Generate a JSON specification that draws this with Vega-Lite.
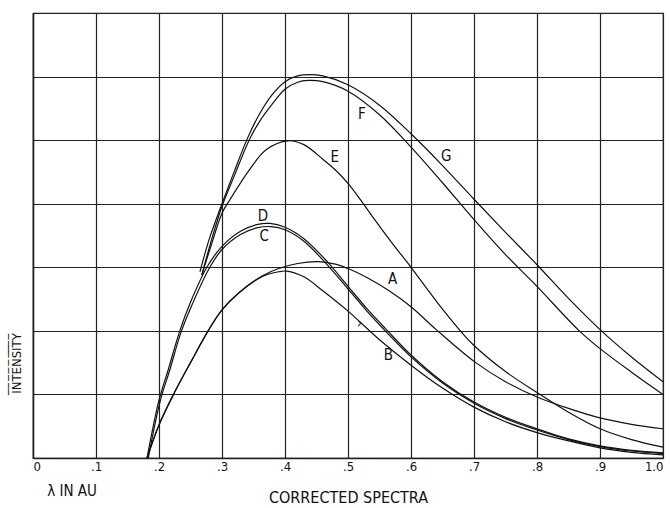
{
  "$schema": "https://vega.github.io/schema/vega-lite/v6.json",
  "width": 630,
  "height": 445,
  "autosize": {"type": "none"},
  "padding": {"left": 33, "top": 13, "right": 7, "bottom": 50},
  "background": "white",
  "config": {
    "view": {"stroke": "#222", "strokeWidth": 1.2},
    "font": "DejaVu Sans Condensed"
  },
  "datasets": {
    "curves": [
      {"series": "G", "x": 0.265, "y": 2.93}, {"series": "G", "x": 0.28, "y": 3.45}, {"series": "G", "x": 0.30, "y": 4.0}, {"series": "G", "x": 0.32, "y": 4.52}, {"series": "G", "x": 0.34, "y": 5.02}, {"series": "G", "x": 0.36, "y": 5.42}, {"series": "G", "x": 0.38, "y": 5.72}, {"series": "G", "x": 0.40, "y": 5.92}, {"series": "G", "x": 0.42, "y": 6.01}, {"series": "G", "x": 0.44, "y": 6.03}, {"series": "G", "x": 0.46, "y": 6.01}, {"series": "G", "x": 0.50, "y": 5.87}, {"series": "G", "x": 0.55, "y": 5.55}, {"series": "G", "x": 0.60, "y": 5.1}, {"series": "G", "x": 0.65, "y": 4.6}, {"series": "G", "x": 0.70, "y": 4.07}, {"series": "G", "x": 0.75, "y": 3.55}, {"series": "G", "x": 0.80, "y": 3.04}, {"series": "G", "x": 0.85, "y": 2.51}, {"series": "G", "x": 0.90, "y": 2.02}, {"series": "G", "x": 0.95, "y": 1.59}, {"series": "G", "x": 1.0, "y": 1.2},

      {"series": "F", "x": 0.268, "y": 2.88}, {"series": "F", "x": 0.283, "y": 3.42}, {"series": "F", "x": 0.30, "y": 3.96}, {"series": "F", "x": 0.32, "y": 4.45}, {"series": "F", "x": 0.343, "y": 5.0}, {"series": "F", "x": 0.36, "y": 5.3}, {"series": "F", "x": 0.38, "y": 5.57}, {"series": "F", "x": 0.40, "y": 5.8}, {"series": "F", "x": 0.42, "y": 5.91}, {"series": "F", "x": 0.437, "y": 5.94}, {"series": "F", "x": 0.46, "y": 5.92}, {"series": "F", "x": 0.50, "y": 5.77}, {"series": "F", "x": 0.55, "y": 5.4}, {"series": "F", "x": 0.60, "y": 4.89}, {"series": "F", "x": 0.65, "y": 4.33}, {"series": "F", "x": 0.70, "y": 3.75}, {"series": "F", "x": 0.75, "y": 3.2}, {"series": "F", "x": 0.80, "y": 2.7}, {"series": "F", "x": 0.865, "y": 2.02}, {"series": "F", "x": 0.90, "y": 1.72}, {"series": "F", "x": 0.95, "y": 1.35}, {"series": "F", "x": 1.0, "y": 1.0},

      {"series": "E", "x": 0.268, "y": 2.88}, {"series": "E", "x": 0.283, "y": 3.35}, {"series": "E", "x": 0.30, "y": 3.85}, {"series": "E", "x": 0.313, "y": 4.07}, {"series": "E", "x": 0.344, "y": 4.54}, {"series": "E", "x": 0.37, "y": 4.85}, {"series": "E", "x": 0.405, "y": 4.99}, {"series": "E", "x": 0.43, "y": 4.93}, {"series": "E", "x": 0.46, "y": 4.70}, {"series": "E", "x": 0.48, "y": 4.53}, {"series": "E", "x": 0.50, "y": 4.32}, {"series": "E", "x": 0.52, "y": 4.06}, {"series": "E", "x": 0.54, "y": 3.78}, {"series": "E", "x": 0.57, "y": 3.38}, {"series": "E", "x": 0.60, "y": 3.0}, {"series": "E", "x": 0.63, "y": 2.6}, {"series": "E", "x": 0.65, "y": 2.34}, {"series": "E", "x": 0.68, "y": 1.98}, {"series": "E", "x": 0.70, "y": 1.77}, {"series": "E", "x": 0.75, "y": 1.36}, {"series": "E", "x": 0.80, "y": 1.03}, {"series": "E", "x": 0.85, "y": 0.72}, {"series": "E", "x": 0.90, "y": 0.46}, {"series": "E", "x": 0.95, "y": 0.29}, {"series": "E", "x": 1.0, "y": 0.17},

      {"series": "D", "x": 0.181, "y": 0.0}, {"series": "D", "x": 0.20, "y": 0.91}, {"series": "D", "x": 0.215, "y": 1.4}, {"series": "D", "x": 0.233, "y": 2.0}, {"series": "D", "x": 0.25, "y": 2.45}, {"series": "D", "x": 0.276, "y": 3.0}, {"series": "D", "x": 0.30, "y": 3.33}, {"series": "D", "x": 0.33, "y": 3.57}, {"series": "D", "x": 0.355, "y": 3.67}, {"series": "D", "x": 0.376, "y": 3.69}, {"series": "D", "x": 0.40, "y": 3.63}, {"series": "D", "x": 0.43, "y": 3.45}, {"series": "D", "x": 0.466, "y": 3.1}, {"series": "D", "x": 0.50, "y": 2.7}, {"series": "D", "x": 0.53, "y": 2.35}, {"series": "D", "x": 0.561, "y": 2.02}, {"series": "D", "x": 0.60, "y": 1.62}, {"series": "D", "x": 0.65, "y": 1.2}, {"series": "D", "x": 0.70, "y": 0.88}, {"series": "D", "x": 0.75, "y": 0.64}, {"series": "D", "x": 0.80, "y": 0.46}, {"series": "D", "x": 0.85, "y": 0.3}, {"series": "D", "x": 0.90, "y": 0.19}, {"series": "D", "x": 0.95, "y": 0.12}, {"series": "D", "x": 1.0, "y": 0.08},

      {"series": "C", "x": 0.183, "y": 0.0}, {"series": "C", "x": 0.202, "y": 0.9}, {"series": "C", "x": 0.217, "y": 1.38}, {"series": "C", "x": 0.235, "y": 1.98}, {"series": "C", "x": 0.252, "y": 2.4}, {"series": "C", "x": 0.279, "y": 2.97}, {"series": "C", "x": 0.30, "y": 3.28}, {"series": "C", "x": 0.33, "y": 3.52}, {"series": "C", "x": 0.355, "y": 3.62}, {"series": "C", "x": 0.378, "y": 3.64}, {"series": "C", "x": 0.40, "y": 3.59}, {"series": "C", "x": 0.43, "y": 3.41}, {"series": "C", "x": 0.466, "y": 3.05}, {"series": "C", "x": 0.50, "y": 2.66}, {"series": "C", "x": 0.53, "y": 2.31}, {"series": "C", "x": 0.561, "y": 1.98}, {"series": "C", "x": 0.60, "y": 1.59}, {"series": "C", "x": 0.65, "y": 1.18}, {"series": "C", "x": 0.70, "y": 0.86}, {"series": "C", "x": 0.75, "y": 0.62}, {"series": "C", "x": 0.80, "y": 0.44}, {"series": "C", "x": 0.85, "y": 0.29}, {"series": "C", "x": 0.90, "y": 0.18}, {"series": "C", "x": 0.95, "y": 0.11}, {"series": "C", "x": 1.0, "y": 0.07},

      {"series": "B", "x": 0.181, "y": 0.0}, {"series": "B", "x": 0.20, "y": 0.52}, {"series": "B", "x": 0.223, "y": 1.0}, {"series": "B", "x": 0.25, "y": 1.5}, {"series": "B", "x": 0.278, "y": 2.0}, {"series": "B", "x": 0.30, "y": 2.33}, {"series": "B", "x": 0.327, "y": 2.6}, {"series": "B", "x": 0.365, "y": 2.86}, {"series": "B", "x": 0.39, "y": 2.93}, {"series": "B", "x": 0.403, "y": 2.94}, {"series": "B", "x": 0.43, "y": 2.85}, {"series": "B", "x": 0.46, "y": 2.63}, {"series": "B", "x": 0.50, "y": 2.31}, {"series": "B", "x": 0.55, "y": 1.86}, {"series": "B", "x": 0.60, "y": 1.46}, {"series": "B", "x": 0.65, "y": 1.1}, {"series": "B", "x": 0.70, "y": 0.8}, {"series": "B", "x": 0.75, "y": 0.57}, {"series": "B", "x": 0.80, "y": 0.4}, {"series": "B", "x": 0.85, "y": 0.27}, {"series": "B", "x": 0.90, "y": 0.16}, {"series": "B", "x": 0.95, "y": 0.09}, {"series": "B", "x": 1.0, "y": 0.05},

      {"series": "A", "x": 0.181, "y": 0.0}, {"series": "A", "x": 0.20, "y": 0.52}, {"series": "A", "x": 0.223, "y": 1.0}, {"series": "A", "x": 0.25, "y": 1.5}, {"series": "A", "x": 0.278, "y": 2.0}, {"series": "A", "x": 0.30, "y": 2.33}, {"series": "A", "x": 0.327, "y": 2.6}, {"series": "A", "x": 0.365, "y": 2.87}, {"series": "A", "x": 0.39, "y": 2.98}, {"series": "A", "x": 0.42, "y": 3.06}, {"series": "A", "x": 0.452, "y": 3.09}, {"series": "A", "x": 0.48, "y": 3.05}, {"series": "A", "x": 0.50, "y": 2.98}, {"series": "A", "x": 0.53, "y": 2.84}, {"series": "A", "x": 0.567, "y": 2.62}, {"series": "A", "x": 0.60, "y": 2.38}, {"series": "A", "x": 0.64, "y": 2.02}, {"series": "A", "x": 0.70, "y": 1.52}, {"series": "A", "x": 0.75, "y": 1.2}, {"series": "A", "x": 0.80, "y": 0.96}, {"series": "A", "x": 0.85, "y": 0.78}, {"series": "A", "x": 0.90, "y": 0.63}, {"series": "A", "x": 0.95, "y": 0.53}, {"series": "A", "x": 1.0, "y": 0.46}
    ],
    "labels": [
      {"label": "F", "x": 0.522, "y": 5.41},
      {"label": "G", "x": 0.656, "y": 4.75},
      {"label": "E", "x": 0.479, "y": 4.73},
      {"label": "D", "x": 0.365, "y": 3.80},
      {"label": "C", "x": 0.367, "y": 3.50},
      {"label": "A", "x": 0.571, "y": 2.82},
      {"label": "B", "x": 0.564, "y": 1.62},
      {"label": "›", "x": 0.518, "y": 2.13},
      {"label": "λ IN AU", "x": 0.062, "y": -0.52}
    ]
  },
  "layer": [
    {
      "data": {"name": "curves"},
      "mark": {"type": "line", "color": "#111", "strokeWidth": 1.2, "interpolate": "catmull-rom"},
      "encoding": {
        "x": {
          "field": "x", "type": "quantitative",
          "scale": {"domain": [0, 1], "nice": false, "zero": false},
          "axis": {
            "values": [0, 0.1, 0.2, 0.3, 0.4, 0.5, 0.6, 0.7, 0.8, 0.9, 1.0],
            "labelExpr": "datum.value == 0 ? '0' : (datum.value >= 1 ? '1.0' : replace(format(datum.value, '.1f'), '0.', '.'))",
            "grid": true, "gridColor": "#222", "gridWidth": 1.2, "gridOpacity": 1,
            "ticks": false, "domain": true, "domainColor": "#222", "domainWidth": 1.5,
            "labelFontSize": 13, "labelColor": "#111", "labelPadding": 2, "labelFlush": true,
            "labelFont": "DejaVu Sans Condensed",
            "title": "CORRECTED SPECTRA", "titleFontSize": 16, "titleFontWeight": "normal",
            "titleColor": "#111", "titleFont": "DejaVu Sans Condensed",
            "titleX": 315, "titleY": 39, "titleAlign": "center", "titleBaseline": "middle"
          }
        },
        "y": {
          "field": "y", "type": "quantitative",
          "scale": {"domain": [0, 7], "nice": false, "zero": false},
          "axis": {
            "values": [0, 1, 2, 3, 4, 5, 6, 7],
            "grid": true, "gridColor": "#222", "gridWidth": 1.2, "gridOpacity": 1,
            "ticks": false, "labels": false, "domain": true, "domainColor": "#222", "domainWidth": 1.5,
            "title": "I̅N̅T̅E̅N̅S̅I̅T̅Y̅", "titleFontSize": 13, "titleFontWeight": "normal",
            "titleColor": "#111", "titleFont": "DejaVu Sans Condensed",
            "titleAngle": 270, "titleX": -17, "titleY": 350, "titleAlign": "center", "titleBaseline": "middle"
          }
        },
        "detail": {"field": "series", "type": "nominal"}
      }
    },
    {
      "data": {"name": "labels"},
      "mark": {"type": "text", "fontSize": 15, "color": "#111", "font": "DejaVu Sans Condensed", "align": "center", "baseline": "middle"},
      "encoding": {
        "x": {"field": "x", "type": "quantitative"},
        "y": {"field": "y", "type": "quantitative"},
        "text": {"field": "label", "type": "nominal"}
      }
    }
  ]
}
